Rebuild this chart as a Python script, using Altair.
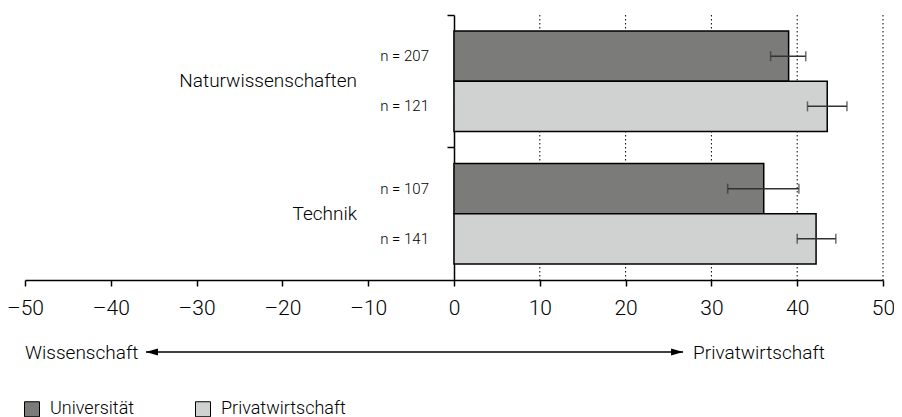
import altair as alt
import pandas as pd

# ---- data ----
group_order = ["Naturwissenschaften", "Technik"]
series_order = ["Universität", "Privatwirtschaft"]
series_colors = ["#7b7b7a", "#d0d2d1"]

groups = ["Naturwissenschaften", "Naturwissenschaften", "Technik", "Technik"]
series = ["Universität", "Privatwirtschaft", "Universität", "Privatwirtschaft"]
means = [39.0, 43.5, 36.1, 42.2]
err_low = [36.9, 41.2, 31.9, 40.0]
err_high = [41.0, 45.8, 40.2, 44.5]
n_values = [207, 121, 107, 141]

x_ticks = [-50, -40, -30, -20, -10, 0, 10, 20, 30, 40, 50]
grid_values = [10, 20, 30, 40, 50]

arrow_left = -35.9
arrow_right = 26.7
left_label = "Wissenschaft"
right_label = "Privatwirtschaft"

# ---- layout constants ----
W = 858
H = 265
FONT = "Roboto"
FW = 300
ARROW_Y = 337

df = pd.DataFrame({
    "group": groups,
    "series": series,
    "mean": means,
    "lo": err_low,
    "hi": err_high,
    "nlabel": [f"n = {v}" for v in n_values],
})

xscale = alt.Scale(domain=[-50, 50], nice=False, zero=False)
yaxis = alt.Axis(labels=False, ticks=True, bandPosition=0, offset=-W / 2,
                 tickSize=7, tickWidth=1.5, tickColor="black",
                 domainColor="black", domainWidth=1.5, grid=False)
yenc = alt.Y("group:N", sort=group_order, title=None,
             scale=alt.Scale(paddingInner=0, paddingOuter=0), axis=yaxis)
yoff = alt.YOffset("series:N", sort=series_order,
                   scale=alt.Scale(paddingInner=0, paddingOuter=0.32))

base = alt.Chart(df)

grid = alt.Chart(pd.DataFrame({"g": grid_values})).mark_rule(
    color="black", strokeWidth=1, strokeDash=[1.5, 2.5]
).encode(
    x=alt.X("g:Q", scale=xscale, title=None),
    y=alt.value(0), y2=alt.value(H),
)

bars = base.mark_bar(stroke="black", strokeWidth=1.5).encode(
    x=alt.X("mean:Q", scale=xscale, title=None,
            axis=alt.Axis(values=x_ticks, tickSize=6, tickWidth=1.5, tickColor="black",
                          domainColor="black", domainWidth=1.5, grid=False,
                          labelFontSize=21, labelFont=FONT, labelFontWeight=FW,
                          labelColor="black", labelPadding=11, labelFlush=False,
                          labelExpr="datum.value < 0 ? '–' + abs(datum.value) : '' + datum.value")),
    y=yenc,
    yOffset=yoff,
    color=alt.Color("series:N", sort=series_order,
                    scale=alt.Scale(domain=series_order, range=series_colors),
                    legend=alt.Legend(orient="none", legendX=-2, legendY=385,
                                      direction="horizontal", title=None,
                                      symbolType="square", symbolSize=225,
                                      symbolStrokeColor="black", symbolStrokeWidth=1,
                                      labelFontSize=18, labelFont=FONT, labelFontWeight=FW,
                                      labelColor="black",
                                      labelOffset=9, columnPadding=58)),
)

err_rule = base.mark_rule(color="#333333", strokeWidth=1.5).encode(
    x=alt.X("lo:Q", scale=xscale, title=None), x2="hi:Q", y=yenc, yOffset=yoff,
)
cap_lo = base.mark_tick(color="#333333", thickness=1.5, size=10).encode(
    x=alt.X("lo:Q", scale=xscale, title=None), y=yenc, yOffset=yoff,
)
cap_hi = base.mark_tick(color="#333333", thickness=1.5, size=10).encode(
    x=alt.X("hi:Q", scale=xscale, title=None), y=yenc, yOffset=yoff,
)

n_text = base.mark_text(align="right", baseline="middle", dx=-25,
                        fontSize=15, font=FONT, fontWeight=FW, color="black").encode(
    x=alt.datum(0), y=yenc, yOffset=yoff, text="nlabel:N",
)

grp_df = pd.DataFrame({"group": group_order})
grp_text = alt.Chart(grp_df).mark_text(align="right", baseline="middle", dx=-97,
                                        fontSize=19, font=FONT, fontWeight=FW,
                                        color="black").encode(
    x=alt.datum(0), y=yenc, text="group:N",
)

arrow_df = pd.DataFrame({"a": [arrow_left], "b": [arrow_right]})
arrow_line = alt.Chart(arrow_df).mark_rule(color="black", strokeWidth=1.5).encode(
    x=alt.X("a:Q", scale=xscale, title=None), x2="b:Q", y=alt.value(ARROW_Y),
)
head_l = alt.Chart(arrow_df).mark_point(
    shape="M0,0L1,-0.3L1,0.3Z", filled=True, color="black", opacity=1, size=576
).encode(x=alt.X("a:Q", scale=xscale, title=None), y=alt.value(ARROW_Y))
head_r = alt.Chart(arrow_df).mark_point(
    shape="M0,0L-1,-0.3L-1,0.3Z", filled=True, color="black", opacity=1, size=576
).encode(x=alt.X("b:Q", scale=xscale, title=None), y=alt.value(ARROW_Y))

lab_l = alt.Chart(pd.DataFrame({"t": [left_label]})).mark_text(
    align="left", baseline="middle", fontSize=19, font=FONT, fontWeight=FW, color="black"
).encode(x=alt.datum(-50), y=alt.value(ARROW_Y + 1), text="t:N")
lab_r = alt.Chart(pd.DataFrame({"t": [right_label], "b": [arrow_right]})).mark_text(
    align="left", baseline="middle", dx=10, fontSize=19, font=FONT, fontWeight=FW,
    color="black"
).encode(x=alt.X("b:Q", scale=xscale, title=None), y=alt.value(ARROW_Y + 1), text="t:N")

chart = alt.layer(
    grid, bars, err_rule, cap_lo, cap_hi, n_text, grp_text,
    arrow_line, head_l, head_r, lab_l, lab_r,
).properties(
    width=W, height=H,
    background="white",
    autosize=alt.AutoSizeParams(type="none"),
    padding={"left": 17, "top": 7, "right": 11, "bottom": 140},
).configure_view(stroke=None)

chart.save("out.html", embed_options={"renderer": "svg", "actions": False})
